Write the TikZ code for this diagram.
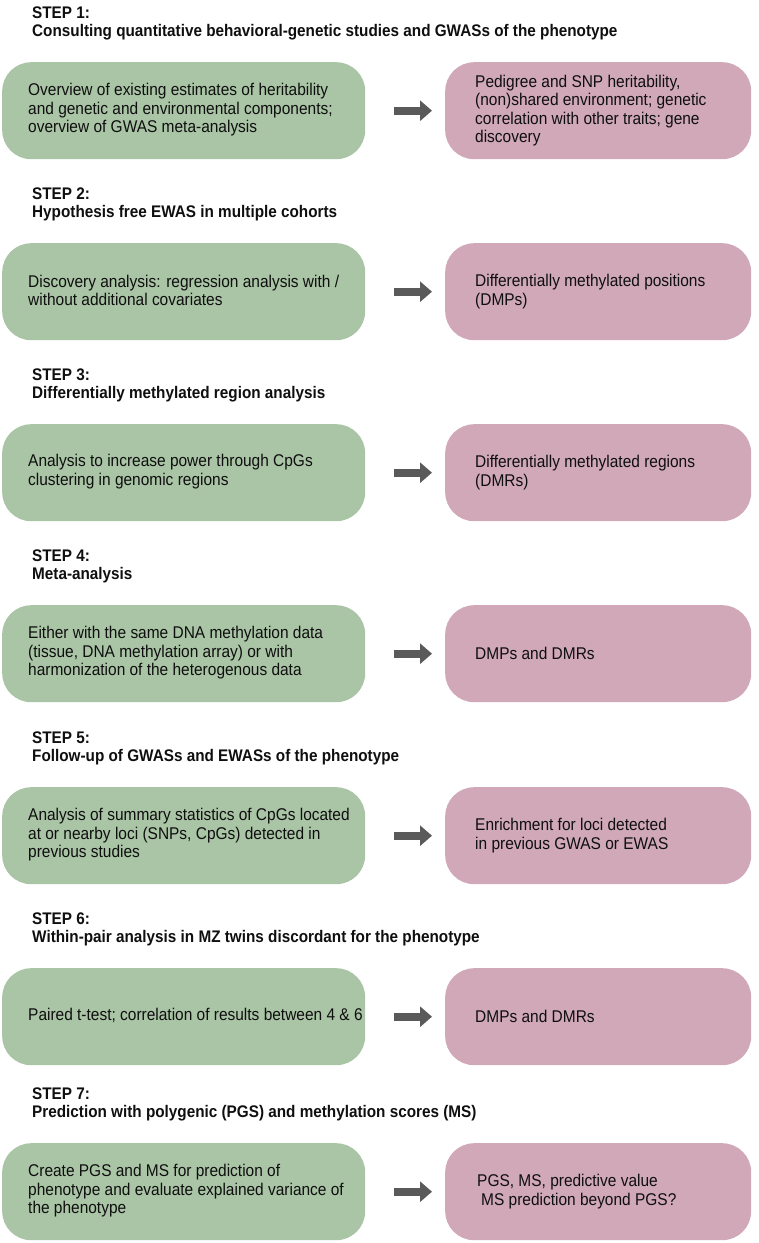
\documentclass[tikz,border=0pt]{standalone}
\usepackage{fontspec}
\setmainfont{Liberation Sans}[FakeStretch=0.91]
\usetikzlibrary{arrows.meta}
\definecolor{boxgreen}{RGB}{170,197,166}
\definecolor{boxpink}{RGB}{208,168,183}
\definecolor{arrowgray}{RGB}{90,90,90}
\definecolor{txt}{RGB}{15,15,15}
\tikzset{
  greenbox/.style={fill=boxgreen, draw=none, rounded corners=29pt, minimum width=363pt, minimum height=97pt, inner sep=0pt, anchor=north west},
  pinkbox/.style={fill=boxpink, draw=none, rounded corners=29pt, minimum width=306pt, minimum height=97pt, inner sep=0pt, anchor=north west},
  boxtext/.style={anchor=west, align=left, inner sep=0pt, font=\fontsize{17}{18.4}\selectfont, text=txt},
  steplabel/.style={anchor=base west, inner sep=0pt, font=\fontsize{16.8}{18}\selectfont\bfseries, text=txt},
  fatarrow/.style={draw=arrowgray, line width=8pt, -{Triangle[length=12pt,width=20pt]}}
}
\newcommand\flowstep[5]{%
  \node[steplabel] (s#1) at (32,#2-44) {STEP #1:};
  \node[steplabel] (t#1) at (32,#2-26) {#3};
  \node[greenbox] (g#1) at (2,#2) {};
  \node[pinkbox] (p#1) at (445,#2) {};
  \node[boxtext] (gt#1) at ([xshift=26pt,yshift=1pt]g#1.west) {#4};
  \node[boxtext] (pt#1) at ([xshift=30pt]p#1.west) {#5};
  \draw[fatarrow] ([xshift=29pt]g#1.east) -- ([xshift=-13pt]p#1.west);
}
\begin{document}
\begin{tikzpicture}[x=1pt,y=-1pt]
\useasboundingbox (0,0) rectangle (759,1243);
\flowstep{1}{62}{Consulting quantitative behavioral-genetic studies and GWASs of the phenotype}
  {Overview of existing estimates of heritability\\and genetic and environmental components;\\overview of GWAS meta-analysis}
  {Pedigree and SNP heritability,\\(non)shared environment; genetic\\correlation with other traits; gene\\discovery}
\flowstep{2}{243}{Hypothesis free EWAS in multiple cohorts}
  {Discovery analysis: regression analysis with /\\without additional covariates}
  {Differentially methylated positions\\(DMPs)}
\flowstep{3}{424}{Differentially methylated region analysis}
  {Analysis to increase power through CpGs\\clustering in genomic regions}
  {Differentially methylated regions\\(DMRs)}
\flowstep{4}{605}{Meta-analysis}
  {Either with the same DNA methylation data\\(tissue, DNA methylation array) or with\\harmonization of the heterogenous data}
  {DMPs and DMRs}
\flowstep{5}{787}{Follow-up of GWASs and EWASs of the phenotype}
  {Analysis of summary statistics of CpGs located\\at or nearby loci (SNPs, CpGs) detected in\\previous studies}
  {Enrichment for loci detected\\in previous GWAS or EWAS}
\flowstep{6}{968}{Within-pair analysis in MZ twins discordant for the phenotype}
  {Paired t-test; correlation of results between 4 \& 6}
  {DMPs and DMRs}
\flowstep{7}{1143}{Prediction with polygenic (PGS) and methylation scores (MS)}
  {Create PGS and MS for prediction of\\phenotype and evaluate explained variance of\\the phenotype}
  {\hspace*{2pt}PGS, MS, predictive value\\\hspace*{6pt}MS prediction beyond PGS?}
\end{tikzpicture}
\end{document}
